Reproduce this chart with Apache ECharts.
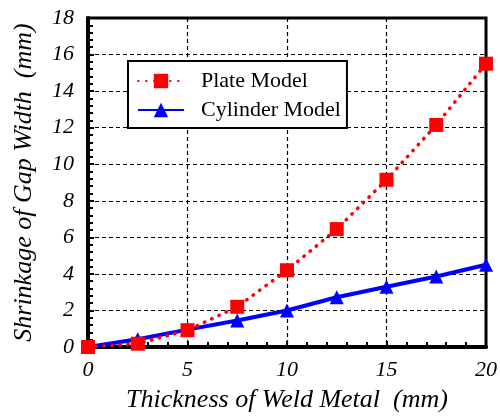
<!DOCTYPE html>
<html><head><meta charset="utf-8">
<script src="https://cdn.jsdelivr.net/npm/echarts@6/dist/echarts.min.js"></script>
<style>html,body{margin:0;padding:0;background:#fff}#c{width:500px;height:418px}</style>
</head><body><div id="c"></div>
<script>
const thickness = [0, 2.5, 5, 7.5, 10, 12.5, 15, 17.5, 20];
const plateModel = [0, 0.18, 0.92, 2.2, 4.2, 6.45, 9.15, 12.15, 15.5];
const cylinderModel = [0, 0.42, 0.95, 1.45, 2.0, 2.72, 3.3, 3.86, 4.5];
const xTicks = [0, 5, 10, 15, 20];
const yTicks = [0, 2, 4, 6, 8, 10, 12, 14, 16, 18];
const seriesNames = ['Plate Model', 'Cylinder Model'];

const chart = echarts.init(document.getElementById('c'));
const pairs = (xs, ys) => xs.map((x, i) => [x, ys[i]]);
const option = {
  animation: false,
  backgroundColor: '#fff',
  textStyle: {fontFamily: 'Liberation Serif'},
  grid: {left: 88, right: 11, top: 18, bottom: 68, show: true, borderColor: '#000', borderWidth: 3},
  legend: {
    orient: 'vertical', left: 128, top: 61,
    data: seriesNames,
    backgroundColor: '#fff', borderColor: '#000', borderWidth: 2,
    padding: [9, 6, 7, 9], itemGap: 7, itemWidth: 46, itemHeight: 18,
    textStyle: {fontFamily: 'Liberation Serif', fontSize: 22, color: '#000', lineHeight: 18, padding: [0, 0, 0, 12]}
  },
  xAxis: {
    type: 'value', min: xTicks[0], max: xTicks[xTicks.length - 1], interval: 5,
    name: 'Thickness of Weld Metal  (mm)', nameLocation: 'middle', nameGap: 40,
    nameTextStyle: {fontFamily: 'Liberation Serif', fontStyle: 'italic', fontSize: 26, color: '#000'},
    axisLine: {lineStyle: {color: '#000', width: 4}},
    axisTick: {inside: true, length: 6, lineStyle: {color: '#000', width: 2}},
    minorTick: {show: true, splitNumber: 5, length: 5, lineStyle: {color: '#000', width: 2}},
    axisLabel: {fontFamily: 'Liberation Serif', fontStyle: 'italic', fontSize: 22, color: '#000', margin: 12},
    splitLine: {show: true, lineStyle: {color: '#000', width: 1.2, type: [4, 3]}}
  },
  yAxis: {
    type: 'value', min: yTicks[0], max: yTicks[yTicks.length - 1], interval: 2,
    name: 'Shrinkage of Gap Width  (mm)', nameLocation: 'middle', nameGap: 51,
    nameTextStyle: {fontFamily: 'Liberation Serif', fontStyle: 'italic', fontSize: 26, color: '#000'},
    axisLine: {lineStyle: {color: '#000', width: 4}},
    axisTick: {inside: true, length: 6, lineStyle: {color: '#000', width: 2}},
    minorTick: {show: true, splitNumber: 5, length: 5, lineStyle: {color: '#000', width: 2}},
    axisLabel: {fontFamily: 'Liberation Serif', fontStyle: 'italic', fontSize: 22, color: '#000', margin: 14},
    splitLine: {show: true, lineStyle: {color: '#000', width: 1.2, type: [4, 3]}}
  },
  series: [
    {
      name: seriesNames[0], type: 'line', data: pairs(thickness, plateModel), z: 4,
      clip: false, symbol: 'rect', symbolSize: 14,
      itemStyle: {color: '#ff0000'},
      lineStyle: {color: '#ff0000', width: 3.5, type: [0.5, 7.5], cap: 'round'}
    },
    {
      name: seriesNames[1], type: 'line', data: pairs(thickness, cylinderModel), z: 3,
      clip: false, symbol: 'triangle', symbolSize: 14,
      itemStyle: {color: '#0000ff'},
      lineStyle: {color: '#0000ff', width: 4}
    }
  ]
};
chart.setOption(option);

// Make sure every drawn text uses the serif face (Times metrics).
function forceSerif() {
  const zr = chart.getZr();
  zr.storage.getDisplayList(true).forEach(el => {
    const st = el.style;
    if (st && typeof st.text === 'string' && st.text.length) {
      const f = String(st.font || '');
      const m = f.match(/(\d+(?:\.\d+)?)px/);
      const size = m ? m[1] : (st.fontSize || 22);
      const italic = /italic/.test(f) || st.fontStyle === 'italic';
      el.setStyle({
        font: (italic ? 'italic ' : '') + 'normal ' + size + 'px "Liberation Serif", "Times New Roman", serif',
        fontFamily: '"Liberation Serif", "Times New Roman", serif'
      });
      el.dirty && el.dirty();
    }
  });
  zr.refreshImmediately();
}
forceSerif();
requestAnimationFrame(forceSerif);
setTimeout(forceSerif, 30);
</script></body></html>
